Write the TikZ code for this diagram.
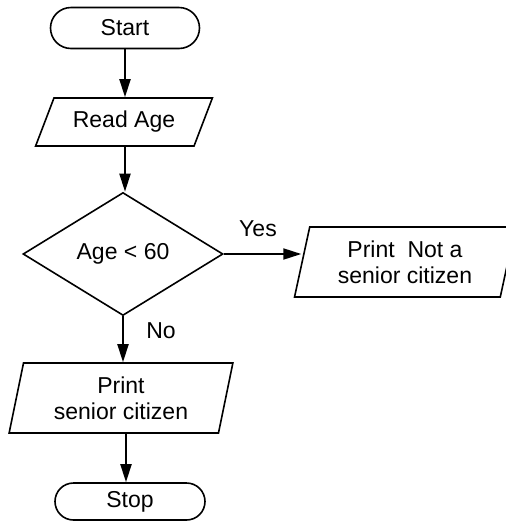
\documentclass[tikz,border=0pt]{standalone}
\usepackage{fontspec}
\setmainfont{Liberation Sans}
\usetikzlibrary{shapes.geometric,shapes.misc,arrows.meta}
\begin{document}
\begin{tikzpicture}[x=1pt,y=-1pt,
  font=\fontsize{23}{26}\selectfont,
  box/.style={draw, line width=1.6pt, inner sep=0pt, align=center},
  term/.style={box, rounded rectangle},
  para/.style={box, trapezium, trapezium stretches=true},
  dec/.style={box, diamond},
  arr/.style={line width=1.9pt, -{Triangle[length=18pt,width=11pt]}},
  lbl/.style={inner sep=0pt}]
\useasboundingbox (0,0) rectangle (506,523);
\clip (0,0) rectangle (506,523);
\node[term, minimum width=149pt, minimum height=41pt] (start) at (125,28) {Start};
\node[para, trapezium left angle=58, trapezium right angle=122,
      minimum width=177pt, minimum height=48pt] (read) at (124,122) {Read Age};
\node[dec, minimum width=200pt, minimum height=123pt] (cond) at (123,254) {Age < 60};
\node[para, trapezium left angle=76, trapezium right angle=104,
      minimum width=221pt, minimum height=70pt] (notsen) at (405,262) {Print\ \ Not a\\senior citizen};
\node[para, trapezium left angle=77, trapezium right angle=103,
      minimum width=224pt, minimum height=70pt] (sen) at (121,398) {Print\\senior citizen};
\node[term, minimum width=150pt, minimum height=37pt] (stop) at (130,501.5) {Stop};
\node[lbl] (yes) at (258,229) {Yes};
\node[lbl] (no) at (161,331) {No};
\draw[arr] (start.south -| 125,0) -- (125,0 |- read.north);
\draw[arr] (read.south -| 125,0) -- (125,0 |- cond.north);
\draw[arr] (cond.east) -- (cond.east -| notsen.west);
\draw[arr] (cond.south -| 123,0) -- (123,0 |- sen.north);
\draw[arr] (sen.south -| 126,0) -- (126,0 |- stop.north);
\end{tikzpicture}
\end{document}
